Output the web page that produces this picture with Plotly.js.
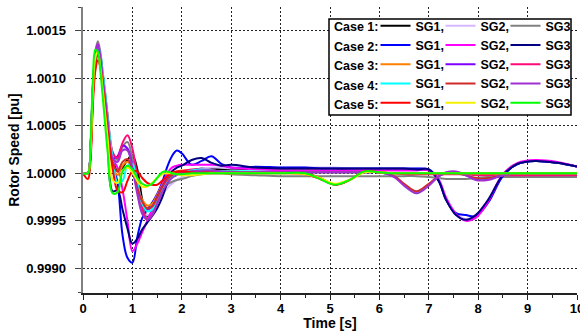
<!DOCTYPE html>
<html>
<head>
<meta charset="utf-8">
<script src="https://cdn.plot.ly/plotly-3.0.1.min.js"></script>
<style>html,body{margin:0;padding:0;background:#fff;}#chart{width:580px;height:331px;}</style>
</head>
<body>
<div id="chart"></div>
<script>
// Time axis [s]
const time = [0,0.1,0.15,0.2,0.25,0.3,0.35,0.4,0.45,0.5,
  0.6,0.7,0.8,0.9,1.0,1.1,1.2,1.3,1.4,1.5,
  1.6,1.7,1.8,1.9,2.0,2.2,2.4,2.6,2.8,3.0,
  3.5,4.0,4.5,4.8,5.1,5.4,5.7,6.0,6.3,6.5,
  6.75,7.0,7.2,7.35,7.55,7.75,7.95,8.2,8.5,8.8,
  9.15,9.6,10];

// Rotor speed [pu]
const c1sg1 = [1.00000,1.00000,1.00024,1.00088,1.00122,1.00133,1.00124,1.00100,1.00076,1.00052,
 1.00016,1.00002,1.00006,1.00014,1.00019,1.00004,0.99972,0.99955,0.99958,0.99970,
 0.99982,0.99991,0.99996,0.99999,1.00001,1.00003,1.00005,1.00005,1.00004,1.00004,
 1.00005,1.00005,1.00005,1.00005,1.00005,1.00004,1.00004,1.00004,1.00004,1.00004,
 1.00004,1.00003,0.99993,0.99973,0.99957,0.99951,0.99955,0.99971,0.99998,1.00010,
 1.00013,1.00011,1.00007];
const c1sg2 = [1.00000,1.00000,1.00022,1.00086,1.00122,1.00132,1.00120,1.00098,1.00074,1.00048,
 1.00012,1.00012,1.00025,1.00027,1.00008,0.99982,0.99963,0.99956,0.99959,0.99968,
 0.99977,0.99984,0.99989,0.99993,0.99996,1.00001,1.00005,1.00006,1.00006,1.00005,
 1.00006,1.00006,1.00006,1.00006,1.00006,1.00005,1.00005,1.00005,1.00005,1.00005,
 1.00005,1.00004,0.99994,0.99975,0.99958,0.99952,0.99956,0.99972,0.99999,1.00010,
 1.00013,1.00011,1.00007];
const c1sg3 = [1.00000,1.00000,1.00026,1.00092,1.00128,1.00139,1.00128,1.00106,1.00084,1.00060,
 1.00022,1.00014,1.00028,1.00033,1.00016,0.99985,0.99960,0.99953,0.99960,0.99972,
 0.99982,0.99988,0.99991,0.99993,0.99994,0.99997,0.99999,1.00000,1.00000,0.99999,
 0.99998,0.99997,0.99997,0.99997,0.99997,0.99997,0.99997,0.99997,0.99997,0.99997,
 0.99997,0.99996,0.99995,0.99994,0.99994,0.99994,0.99995,0.99996,0.99996,0.99996,
 0.99996,0.99996,0.99996];
const c2sg1 = [1.00000,1.00000,1.00022,1.00086,1.00120,1.00132,1.00120,1.00097,1.00072,1.00048,
 1.00010,0.99990,0.99935,0.99911,0.99906,0.99933,0.99953,0.99962,0.99969,0.99978,
 0.99990,1.00006,1.00018,1.00024,1.00021,1.00009,1.00013,1.00018,1.00010,1.00006,
 1.00007,1.00006,1.00006,1.00005,1.00005,1.00005,1.00005,1.00005,1.00005,1.00005,
 1.00005,1.00004,0.99992,0.99972,0.99958,0.99956,0.99955,0.99969,0.99997,1.00010,
 1.00013,1.00011,1.00007];
const c2sg2 = [1.00000,1.00000,1.00026,1.00090,1.00125,1.00136,1.00124,1.00100,1.00076,1.00052,
 1.00015,1.00006,0.99983,0.99950,0.99918,0.99926,0.99938,0.99950,0.99962,0.99975,
 0.99988,0.99999,1.00006,1.00008,1.00009,1.00009,1.00009,1.00009,1.00008,1.00006,
 1.00004,1.00003,1.00003,1.00003,1.00003,1.00003,1.00003,1.00003,1.00003,1.00003,
 1.00003,1.00003,0.99993,0.99974,0.99957,0.99950,0.99953,0.99970,0.99999,1.00011,
 1.00014,1.00012,1.00007];
const c2sg3 = [1.00000,1.00000,1.00022,1.00086,1.00120,1.00130,1.00115,1.00088,1.00060,1.00034,
 0.99981,0.99982,0.99962,0.99942,0.99926,0.99931,0.99941,0.99948,0.99955,0.99963,
 0.99974,0.99989,1.00002,1.00006,1.00008,1.00014,1.00016,1.00011,1.00008,1.00009,
 1.00006,1.00005,1.00005,1.00005,1.00005,1.00005,1.00005,1.00005,1.00005,1.00005,
 1.00004,1.00004,0.99992,0.99972,0.99956,0.99951,0.99956,0.99972,0.99998,1.00010,
 1.00013,1.00011,1.00007];
const c3sg1 = [1.00000,1.00000,1.00020,1.00082,1.00118,1.00127,1.00118,1.00096,1.00072,1.00048,
 1.00010,0.99998,1.00008,1.00012,1.00003,0.99986,0.99972,0.99966,0.99968,0.99977,
 0.99987,0.99994,0.99999,1.00002,1.00003,1.00003,1.00002,1.00002,1.00001,1.00001,
 1.00001,1.00001,1.00000,0.99995,0.99988,0.99993,1.00002,1.00001,1.00000,1.00000,
 1.00000,1.00000,1.00000,1.00000,1.00000,1.00000,1.00000,0.99999,0.99999,0.99999,
 0.99999,0.99999,0.99999];
const c3sg2 = [1.00000,1.00000,1.00025,1.00090,1.00124,1.00135,1.00122,1.00098,1.00074,1.00050,
 1.00016,1.00018,1.00029,1.00026,1.00008,0.99984,0.99968,0.99962,0.99965,0.99975,
 0.99986,0.99994,0.99998,1.00000,1.00001,1.00002,1.00002,1.00002,1.00001,1.00001,
 1.00001,1.00001,1.00001,1.00001,1.00001,1.00001,1.00001,1.00001,0.99997,0.99988,
 0.99980,0.99988,0.99997,1.00000,1.00001,0.99998,0.99994,0.99994,0.99998,1.00000,
 1.00000,1.00000,1.00000];
const c3sg3 = [1.00000,1.00000,1.00018,1.00080,1.00115,1.00125,1.00120,1.00102,1.00082,1.00060,
 1.00022,1.00016,1.00032,1.00040,1.00026,0.99995,0.99964,0.99951,0.99956,0.99968,
 0.99980,0.99990,0.99996,1.00000,1.00002,1.00004,1.00004,1.00003,1.00002,1.00001,
 1.00001,1.00001,1.00000,0.99995,0.99988,0.99993,1.00002,1.00001,1.00000,0.99999,
 0.99999,0.99999,0.99999,0.99999,0.99999,0.99999,0.99998,0.99998,0.99998,0.99998,
 0.99998,0.99998,0.99998];
const c4sg1 = [1.00000,1.00000,1.00025,1.00090,1.00122,1.00134,1.00126,1.00106,1.00084,1.00058,
 1.00016,0.99990,0.99992,1.00008,1.00010,0.99990,0.99968,0.99960,0.99962,0.99972,
 0.99983,0.99991,0.99996,0.99999,1.00000,1.00003,1.00004,1.00003,1.00002,1.00002,
 1.00002,1.00001,1.00001,1.00001,1.00001,1.00001,1.00001,1.00001,0.99997,0.99988,
 0.99979,0.99988,0.99997,1.00000,1.00000,0.99998,0.99995,0.99995,0.99998,1.00000,
 1.00000,1.00000,1.00000];
const c4sg2 = [1.00000,1.00000,1.00020,1.00082,1.00116,1.00125,1.00117,1.00097,1.00074,1.00050,
 1.00012,1.00002,1.00012,1.00015,1.00004,0.99985,0.99970,0.99963,0.99965,0.99974,
 0.99985,0.99993,0.99998,1.00000,1.00001,1.00002,1.00002,1.00002,1.00001,1.00001,
 1.00001,1.00001,1.00001,1.00001,1.00001,1.00001,1.00001,1.00001,0.99997,0.99989,
 0.99981,0.99989,0.99997,1.00000,1.00000,0.99998,0.99995,0.99995,0.99998,1.00000,
 1.00000,1.00000,1.00000];
const c4sg3 = [1.00000,1.00000,1.00025,1.00090,1.00124,1.00135,1.00124,1.00100,1.00078,1.00054,
 1.00016,1.00012,1.00024,1.00024,1.00005,0.99978,0.99957,0.99951,0.99956,0.99968,
 0.99980,0.99989,0.99995,0.99998,1.00000,1.00002,1.00003,1.00003,1.00002,1.00001,
 1.00001,1.00001,1.00001,1.00001,1.00001,1.00001,1.00001,1.00001,0.99996,0.99987,
 0.99979,0.99987,0.99997,1.00001,1.00002,0.99998,0.99993,0.99993,0.99998,1.00000,
 1.00000,1.00000,1.00000];
const c5sg1 = [1.00000,0.99994,1.00012,1.00072,1.00108,1.00119,1.00112,1.00092,1.00068,1.00044,
 1.00005,0.99982,0.99980,0.99992,1.00002,1.00002,0.99995,0.99990,0.99988,0.99988,
 0.99992,0.99997,1.00001,1.00002,1.00002,1.00001,1.00000,1.00000,1.00000,1.00000,
 1.00000,1.00000,0.99999,0.99994,0.99988,0.99993,1.00002,1.00001,1.00000,1.00000,
 1.00000,1.00000,1.00000,1.00000,1.00000,1.00000,1.00000,1.00000,1.00000,1.00000,
 1.00000,1.00000,1.00000];
const c5sg2 = [1.00000,1.00000,1.00022,1.00086,1.00122,1.00128,1.00112,1.00088,1.00062,1.00036,
 0.99993,0.99990,1.00002,1.00006,1.00001,0.99992,0.99986,0.99986,0.99990,0.99995,
 0.99999,1.00000,1.00000,0.99999,0.99998,0.99998,0.99999,1.00000,1.00000,1.00000,
 1.00000,1.00000,0.99999,0.99995,0.99989,0.99993,1.00001,1.00001,1.00000,1.00000,
 1.00000,1.00000,1.00000,1.00000,1.00000,1.00000,1.00000,1.00000,1.00000,1.00000,
 1.00000,1.00000,1.00000];
const c5sg3 = [1.00000,1.00000,1.00030,1.00098,1.00130,1.00128,1.00108,1.00080,1.00050,1.00022,
 0.99979,0.99980,1.00002,1.00008,1.00004,0.99995,0.99989,0.99987,0.99989,0.99995,
 1.00001,1.00002,1.00000,0.99999,0.99999,1.00000,1.00000,1.00000,1.00000,1.00000,
 1.00000,1.00000,1.00000,0.99994,0.99988,0.99993,1.00002,1.00001,1.00000,1.00000,
 1.00000,1.00000,1.00000,1.00000,1.00000,1.00000,1.00000,1.00000,1.00000,1.00000,
 1.00000,1.00000,1.00000];

const caseLabels = ['Case 1:','Case 2:','Case 3:','Case 4:','Case 5:'];
const sgNames = ['SG1,','SG2,','SG3'];
const series = [
  [c1sg1, c1sg2, c1sg3],
  [c2sg1, c2sg2, c2sg3],
  [c3sg1, c3sg2, c3sg3],
  [c4sg1, c4sg2, c4sg3],
  [c5sg1, c5sg2, c5sg3]
];
const colors = [
  ['#000000','#d6b8ff','#808080'],
  ['#0000ff','#ff00ff','#000080'],
  ['#ff8000','#8000ff','#ff0a78'],
  ['#00ffff','#d02a2a','#a030d0'],
  ['#ff0000','#f5f000','#00ff00']
];

const FONT = 'Arial, "Liberation Sans", Helvetica, sans-serif';
const legendIds = ['legend','legend2','legend3'];

const traces = [];
for (let c = 0; c < series.length; c++) {
  for (let s = 0; s < 3; s++) {
    traces.push({
      type: 'scatter', mode: 'lines',
      x: time, y: series[c][s],
      name: sgNames[s],
      legend: legendIds[s],
      line: {color: colors[c][s], width: 2, shape: 'spline', smoothing: 1},
      hoverinfo: 'skip'
    });
  }
}

const L = 83, R = 3, T = 7, B = 38;
const W = 580, H = 331;
const pw = W - L - R, ph = H - T - B;
const px2x = p => (p - L) / pw;
const py2y = p => (H - B - p) / ph;

const rowPx = [27, 46.5, 66, 85.5, 105];
const annotations = caseLabels.map((t, i) => ({
  text: t, xref: 'paper', yref: 'paper', x: px2x(332), y: py2y(rowPx[i]),
  xanchor: 'left', yanchor: 'middle', showarrow: false,
  font: {family: FONT, size: 12.5, color: '#000', weight: 'bold'}
}));

const legendCommon = {
  yref: 'paper', y: py2y(11), yanchor: 'top', xanchor: 'left',
  bgcolor: 'rgba(0,0,0,0)', borderwidth: 0, traceorder: 'normal',
  font: {family: FONT, size: 12.5, color: '#000', weight: 'bold'}
};

const yRange = [0.99874, 1.00175];
const xRange = [0, 10];
const gridDash = '2px,2px';

const layout = {
  width: W, height: H,
  margin: {l: L, r: R, t: T, b: B, pad: 0},
  paper_bgcolor: '#fff', plot_bgcolor: '#fff',
  showlegend: true,
  font: {family: FONT, size: 13, color: '#000', weight: 'bold'},
  legend: Object.assign({}, legendCommon, {x: px2x(375.5)}),
  legend2: Object.assign({}, legendCommon, {x: px2x(440.5)}),
  legend3: Object.assign({}, legendCommon, {x: px2x(505.5)}),
  xaxis: {
    range: xRange, dtick: 1, tick0: 0,
    ticks: 'outside', ticklen: 5, tickwidth: 1, tickcolor: '#222',
    minor: {dtick: 0.5, ticks: 'outside', ticklen: 3, tickcolor: '#222', showgrid: false},
    showline: true, linecolor: '#222', linewidth: 1.5,
    showgrid: true, gridcolor: '#222', gridwidth: 1, griddash: gridDash,
    zeroline: false, ticklabeloverflow: 'allow', ticklabelstandoff: -2,
    tickfont: {family: FONT, size: 13, color: '#000', weight: 'bold'},
    title: {text: 'Time [s]', standoff: 3, font: {family: FONT, size: 14, color: '#000', weight: 'bold'}}
  },
  yaxis: {
    range: yRange, dtick: 0.0005, tick0: 1, tickformat: '.4f',
    ticks: 'outside', ticklen: 6, tickwidth: 1, tickcolor: '#444',
    minor: {dtick: 0.00025, ticks: 'outside', ticklen: 3, tickcolor: '#444', showgrid: false},
    showline: true, linecolor: '#808080', linewidth: 2.5,
    showgrid: true, gridcolor: '#222', gridwidth: 1, griddash: gridDash,
    zeroline: false, ticklabelstandoff: 6,
    tickfont: {family: FONT, size: 13, color: '#000', weight: 'bold'},
    title: {text: 'Rotor Speed [pu]', standoff: 3, font: {family: FONT, size: 14, color: '#000', weight: 'bold'}}
  },
  xaxis2: {
    overlaying: 'x', side: 'top', range: xRange, dtick: 1, tick0: 0,
    ticks: 'inside', ticklen: 6, tickcolor: '#222',
    minor: {dtick: 0.5, ticks: 'inside', ticklen: 3, tickcolor: '#222', showgrid: false},
    showticklabels: false, showline: true, linecolor: '#222', linewidth: 1.5,
    showgrid: false, zeroline: false
  },
  yaxis2: {
    overlaying: 'y', side: 'right', range: yRange, dtick: 0.0005, tick0: 1,
    ticks: 'inside', ticklen: 6, tickcolor: '#222',
    minor: {dtick: 0.00025, ticks: 'inside', ticklen: 3, tickcolor: '#222', showgrid: false},
    showticklabels: false, showline: true, linecolor: '#222', linewidth: 1.5,
    showgrid: false, zeroline: false
  },
  shapes: [{
    type: 'rect', xref: 'paper', yref: 'paper', layer: 'above',
    x0: px2x(329), x1: px2x(571), y0: py2y(115), y1: py2y(19),
    line: {color: '#000', width: 1.5}, fillcolor: '#fff'
  }],
  annotations: annotations
};

Plotly.newPlot('chart', traces, layout, {staticPlot: true, displayModeBar: false});
</script>
</body>
</html>
